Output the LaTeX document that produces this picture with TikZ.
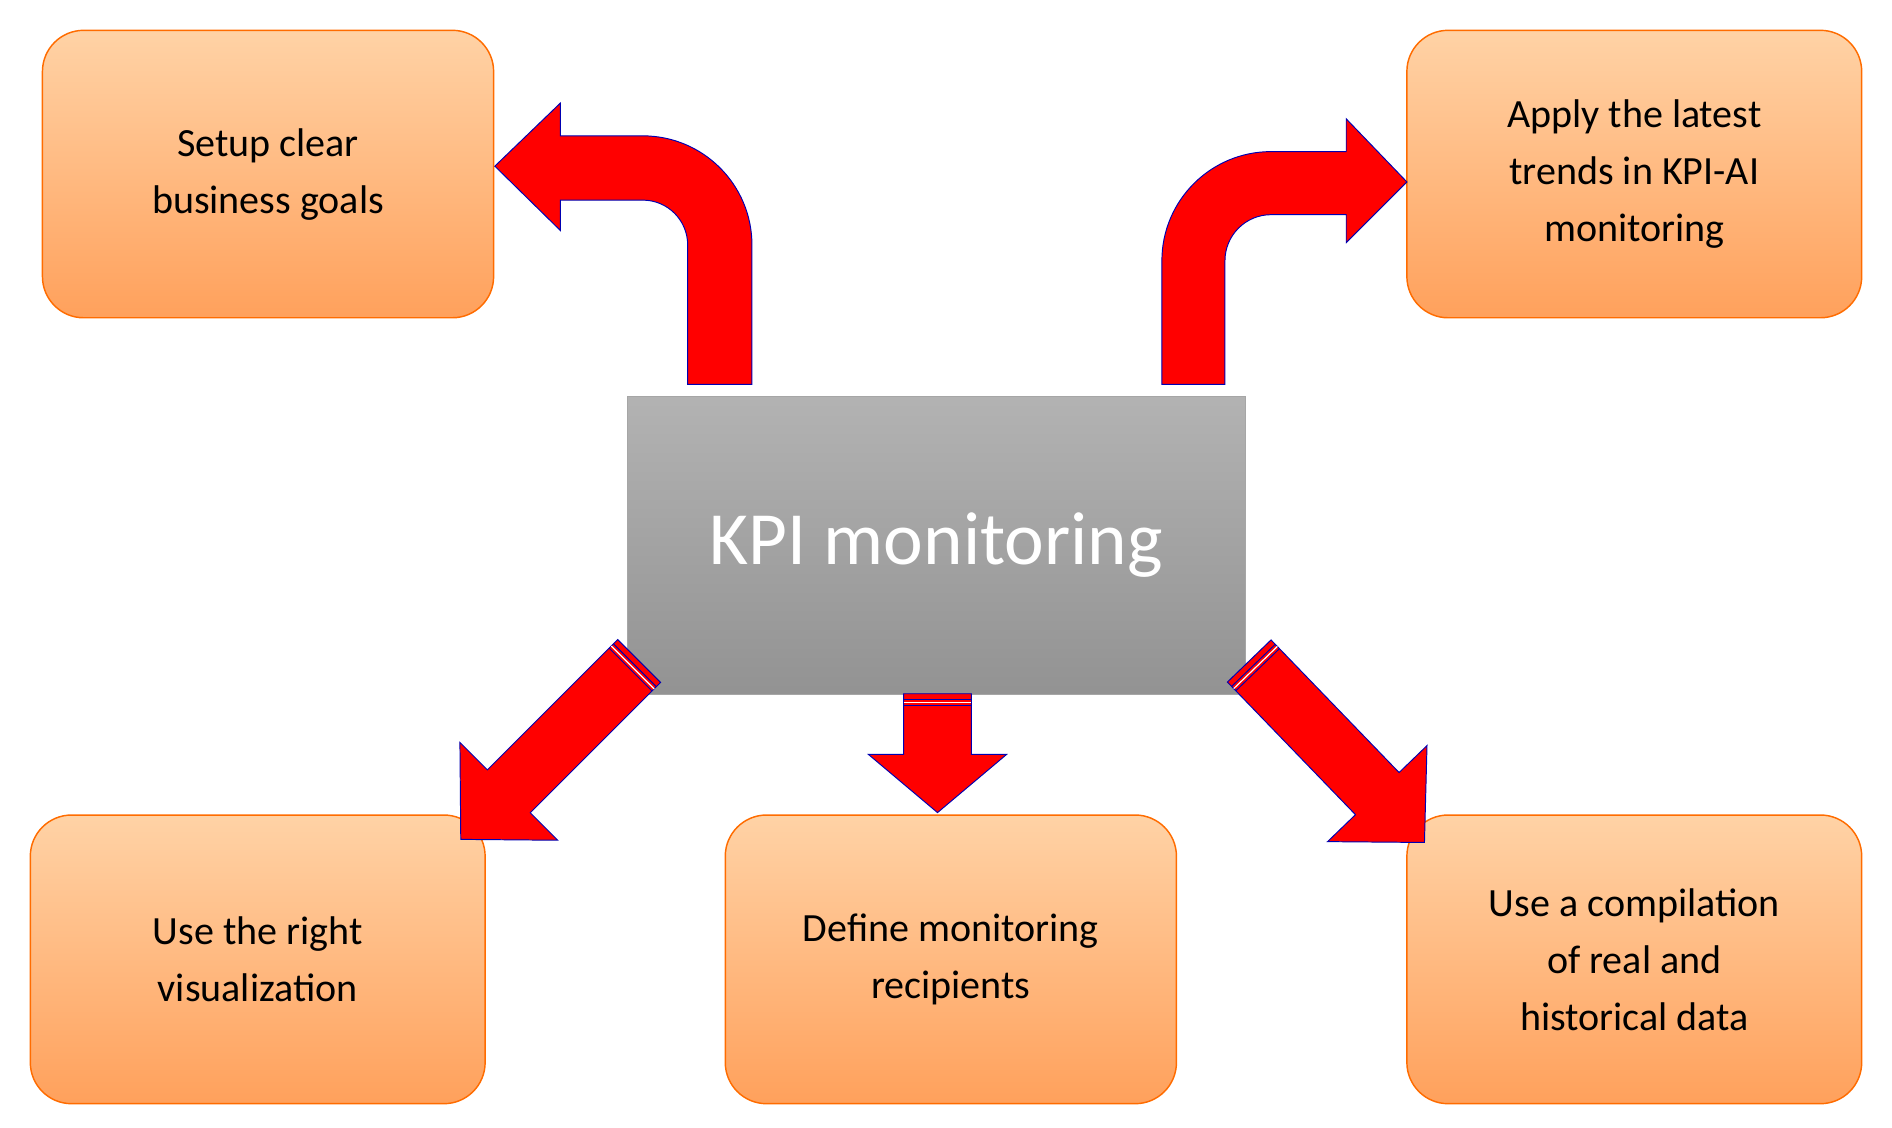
\documentclass[tikz,border=0pt]{standalone}
\usepackage{fontspec}
\setmainfont{Carlito}
\begin{document}
\begin{tikzpicture}[x=1pt,y=1pt,
 box/.style={draw=orange!85!red,line width=1.2pt,rounded corners=34pt,top color=orange!35!white,bottom color=orange!60!white!90!red,align=center,font=\fontsize{33}{47}\selectfont,text=black},
 arr/.style={fill=red,draw=blue!70!black,line width=0.8pt,line join=miter}]
\useasboundingbox (0,0) rectangle (1560,-930);
\path[box] (35,-25) rectangle (407,-262) node[midway] (g1) {Setup clear\\business goals};
\path[box] (1160,-25) rectangle (1535,-262) node[midway] (g2) {Apply the latest\\trends in KPI-AI\\monitoring};
\path[box] (25,-672) rectangle (400,-910) node[midway] (g3) {Use the right\\visualization};
\path[box] (598,-672) rectangle (970,-910) node[midway] (g4) {Define monitoring\\recipients};
\path[box] (1160,-672) rectangle (1535,-910) node[midway] (g5) {Use a compilation\\of real and\\historical data};
\path[top color=gray!60,bottom color=gray!85,draw=gray!70] (517,-327) rectangle (1027,-572) node[midway,text=white,font=\fontsize{62}{70}\selectfont] (c) {KPI monitoring};
% bent arrows
\draw[arr] (620,-317)--(620,-202) arc(0:90:90) -- (462,-112) -- (462,-85) -- (408,-137) -- (462,-190) -- (462,-165) -- (530,-165) arc(90:0:37) -- (567,-317) -- cycle;
\draw[arr] (958,-317)--(958,-215) arc(180:90:90) -- (1110,-125) -- (1110,-98) -- (1160,-150) -- (1110,-200) -- (1110,-177) -- (1048,-177) arc(90:180:38) -- (1010,-317) -- cycle;
% straight arrows
\foreach \px/\py/\a/\L/\b/\w in {527/-545/225/208/152/25, 1030/-545/-46/208/152/25, 773/-572/-90/98/50/28}{
 \begin{scope}[shift={(\px,\py)},rotate=\a]
  \draw[arr] (0,-\w)--(\b,-\w)--(\b,-57)--(\L,0)--(\b,57)--(\b,\w)--(0,\w)--cycle;
  \draw[blue!70!black,line width=0.8pt] (5,-\w)--(5,\w) (10,-\w)--(10,\w);
  \draw[white,line width=1pt] (7.5,-\w)--(7.5,\w);
 \end{scope}}
\end{tikzpicture}
\end{document}
